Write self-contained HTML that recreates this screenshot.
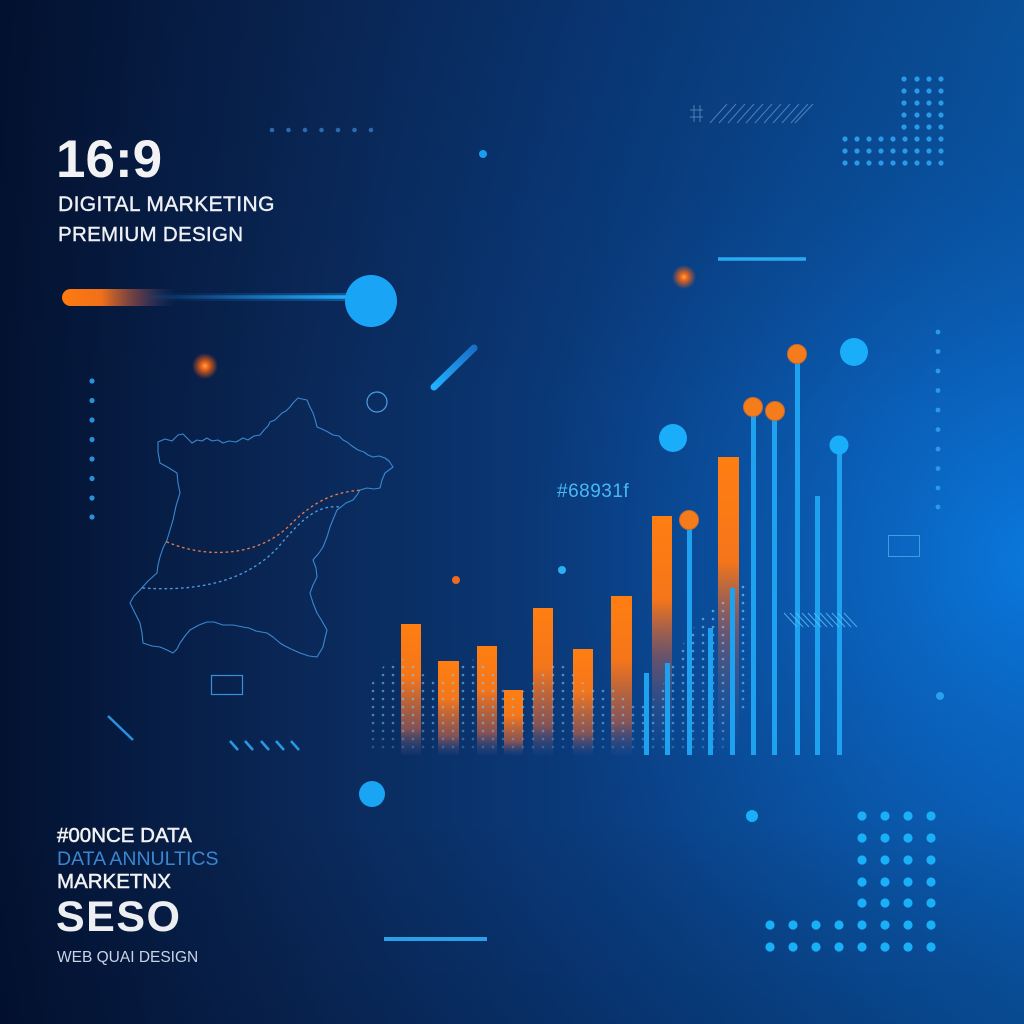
<!DOCTYPE html>
<html><head><meta charset="utf-8"><style>
html,body{margin:0;padding:0;width:1024px;height:1024px;overflow:hidden;background:#06183a}
svg{display:block}
text{font-family:"Liberation Sans",sans-serif}
</style></head><body>
<svg width="1024" height="1024" viewBox="0 0 1024 1024" xmlns="http://www.w3.org/2000/svg">
<defs>
<linearGradient id="bg" x1="0" y1="0" x2="1" y2="0">
<stop offset="0" stop-color="#031231"/>
<stop offset="0.3" stop-color="#0a2858"/>
<stop offset="0.6" stop-color="#0a3d80"/>
<stop offset="1" stop-color="#0a5cae"/>
</linearGradient>
<radialGradient id="glowR" cx="1040" cy="560" r="520" gradientUnits="userSpaceOnUse">
<stop offset="0" stop-color="#0a7ae0" stop-opacity="0.95"/>
<stop offset="0.5" stop-color="#0a62c0" stop-opacity="0.5"/>
<stop offset="1" stop-color="#0a4a9a" stop-opacity="0"/>
</radialGradient>
<linearGradient id="vfade" x1="0" y1="0" x2="0" y2="1">
<stop offset="0" stop-color="#000820" stop-opacity="0.15"/>
<stop offset="0.4" stop-color="#000820" stop-opacity="0"/>
<stop offset="0.8" stop-color="#000820" stop-opacity="0"/>
<stop offset="1" stop-color="#000820" stop-opacity="0.2"/>
</linearGradient>
<linearGradient id="bar" x1="0" y1="0" x2="0" y2="1">
<stop offset="0" stop-color="#ff7e12"/>
<stop offset="0.4" stop-color="#f5761a"/>
<stop offset="0.8" stop-color="#a25a4e" stop-opacity="0.8"/>
<stop offset="1" stop-color="#40508a" stop-opacity="0.1"/>
</linearGradient>
<linearGradient id="barT" x1="0" y1="0" x2="0" y2="1">
<stop offset="0" stop-color="#ff7e12"/>
<stop offset="0.35" stop-color="#f5761a"/>
<stop offset="0.6" stop-color="#a05a58" stop-opacity="0.6"/>
<stop offset="1" stop-color="#2a60b0" stop-opacity="0"/>
</linearGradient>
<linearGradient id="orb" x1="62" y1="0" x2="175" y2="0" gradientUnits="userSpaceOnUse">
<stop offset="0" stop-color="#ff7a10"/>
<stop offset="0.35" stop-color="#f0701a"/>
<stop offset="0.7" stop-color="#8a4a50" stop-opacity="0.6"/>
<stop offset="1" stop-color="#2a4a8a" stop-opacity="0"/>
</linearGradient>
<linearGradient id="orb2" x1="140" y1="0" x2="350" y2="0" gradientUnits="userSpaceOnUse">
<stop offset="0" stop-color="#1a80e0" stop-opacity="0"/>
<stop offset="1" stop-color="#20b0ff"/>
</linearGradient>
<radialGradient id="og">
<stop offset="0" stop-color="#ffa050"/>
<stop offset="0.3" stop-color="#ff6a10" stop-opacity="0.9"/>
<stop offset="1" stop-color="#ff5a10" stop-opacity="0"/>
</radialGradient>
<linearGradient id="diag" x1="0" y1="1" x2="1" y2="0">
<stop offset="0" stop-color="#20b0ff"/>
<stop offset="1" stop-color="#1a70c8"/>
</linearGradient>
<pattern id="dots" width="10" height="8" patternUnits="userSpaceOnUse">
<circle cx="3" cy="3" r="1.3" fill="#7fd0ff"/>
</pattern>
<linearGradient id="dfade" x1="0" y1="0" x2="0" y2="1">
<stop offset="0" stop-color="#fff" stop-opacity="0.9"/>
<stop offset="0.8" stop-color="#fff" stop-opacity="0.7"/>
<stop offset="1" stop-color="#fff" stop-opacity="0.2"/>
</linearGradient>
<mask id="dmask"><rect x="350" y="560" width="450" height="200" fill="url(#dfade)"/></mask>
</defs>

<rect width="1024" height="1024" fill="url(#bg)"/>
<rect width="1024" height="1024" fill="url(#glowR)"/>
<rect width="1024" height="1024" fill="url(#vfade)"/>

<!-- top dotted row -->
<g fill="#2a6ab0">
<circle cx="272" cy="130" r="2.3"/><circle cx="288.5" cy="130" r="2.3"/><circle cx="305" cy="130" r="2.3"/><circle cx="321.5" cy="130" r="2.3"/><circle cx="338" cy="130" r="2.3"/><circle cx="354.5" cy="130" r="2.3"/><circle cx="371" cy="130" r="2.3"/>
</g>
<circle cx="483" cy="154" r="4" fill="#1a9ef0"/>

<!-- hatch top -->
<g stroke="#6a9ad0" stroke-width="1" opacity="0.7">
<line x1="690" y1="110" x2="703" y2="110"/><line x1="690" y1="117" x2="703" y2="117"/><line x1="694" y1="105" x2="694" y2="122"/><line x1="700" y1="105" x2="700" y2="122"/>
<line x1="710" y1="123" x2="727" y2="104"/><line x1="719" y1="123" x2="736" y2="104"/><line x1="728" y1="123" x2="745" y2="104"/><line x1="737" y1="123" x2="754" y2="104"/><line x1="746" y1="123" x2="763" y2="104"/><line x1="755" y1="123" x2="772" y2="104"/><line x1="764" y1="123" x2="781" y2="104"/><line x1="773" y1="123" x2="790" y2="104"/><line x1="782" y1="123" x2="799" y2="104"/><line x1="791" y1="123" x2="808" y2="104"/><line x1="795" y1="123" x2="813" y2="104"/>
</g>

<!-- top-right dot grid -->
<g fill="#2a9ae8">
<circle cx="904" cy="79" r="2.6"/><circle cx="917" cy="79" r="2.6"/><circle cx="929" cy="79" r="2.6"/><circle cx="941" cy="79" r="2.6"/>
<circle cx="904" cy="91" r="2.6"/><circle cx="917" cy="91" r="2.6"/><circle cx="929" cy="91" r="2.6"/><circle cx="941" cy="91" r="2.6"/>
<circle cx="904" cy="103" r="2.6"/><circle cx="917" cy="103" r="2.6"/><circle cx="929" cy="103" r="2.6"/><circle cx="941" cy="103" r="2.6"/>
<circle cx="904" cy="115" r="2.6"/><circle cx="917" cy="115" r="2.6"/><circle cx="929" cy="115" r="2.6"/><circle cx="941" cy="115" r="2.6"/>
<circle cx="904" cy="127" r="2.6"/><circle cx="917" cy="127" r="2.6"/><circle cx="929" cy="127" r="2.6"/><circle cx="941" cy="127" r="2.6"/>
<circle cx="845" cy="139" r="2.6"/><circle cx="857" cy="139" r="2.6"/><circle cx="869" cy="139" r="2.6"/><circle cx="881" cy="139" r="2.6"/><circle cx="893" cy="139" r="2.6"/><circle cx="905" cy="139" r="2.6"/><circle cx="917" cy="139" r="2.6"/><circle cx="929" cy="139" r="2.6"/><circle cx="941" cy="139" r="2.6"/>
<circle cx="845" cy="151" r="2.6"/><circle cx="857" cy="151" r="2.6"/><circle cx="869" cy="151" r="2.6"/><circle cx="881" cy="151" r="2.6"/><circle cx="893" cy="151" r="2.6"/><circle cx="905" cy="151" r="2.6"/><circle cx="917" cy="151" r="2.6"/><circle cx="929" cy="151" r="2.6"/><circle cx="941" cy="151" r="2.6"/>
<circle cx="845" cy="163" r="2.6"/><circle cx="857" cy="163" r="2.6"/><circle cx="869" cy="163" r="2.6"/><circle cx="881" cy="163" r="2.6"/><circle cx="893" cy="163" r="2.6"/><circle cx="905" cy="163" r="2.6"/><circle cx="917" cy="163" r="2.6"/><circle cx="929" cy="163" r="2.6"/><circle cx="941" cy="163" r="2.6"/>
</g>

<!-- top-left text -->
<text x="56" y="177" font-size="53" font-weight="bold" fill="#f2f2f4">16:9</text>
<text x="58" y="211" font-size="21" fill="#eef0f4" stroke="#eef0f4" stroke-width="0.4" letter-spacing="0.4">DIGITAL MARKETING</text>
<text x="58" y="241" font-size="20.5" fill="#eef0f4" stroke="#eef0f4" stroke-width="0.4" letter-spacing="0.3">PREMIUM DESIGN</text>

<!-- orbit line -->
<line x1="140" y1="297" x2="350" y2="297" stroke="url(#orb2)" stroke-width="8" opacity="0.35"/>
<line x1="140" y1="297" x2="350" y2="297" stroke="url(#orb2)" stroke-width="3.5"/>
<path d="M70.5,289 L175,289 L175,306 L70.5,306 A8.5,8.5 0 0 1 70.5,289 Z" fill="url(#orb)"/>
<circle cx="371" cy="301" r="26" fill="#1aa4f6"/>

<line x1="718" y1="259" x2="806" y2="259" stroke="#2aaaf0" stroke-width="3.5"/>
<circle cx="684" cy="277" r="12" fill="url(#og)"/>
<circle cx="205" cy="366" r="13" fill="url(#og)"/>

<!-- left vertical dots -->
<g fill="#2a90d8">
<circle cx="92" cy="381" r="2.6"/><circle cx="92" cy="400.5" r="2.6"/><circle cx="92" cy="420" r="2.6"/><circle cx="92" cy="439.5" r="2.6"/><circle cx="92" cy="459" r="2.6"/><circle cx="92" cy="478.5" r="2.6"/><circle cx="92" cy="498" r="2.6"/><circle cx="92" cy="517" r="2.6"/>
</g>
<!-- right vertical dots -->
<g fill="#2a9ae6">
<circle cx="938" cy="332" r="2.4"/><circle cx="938" cy="351.5" r="2.4"/><circle cx="938" cy="371" r="2.4"/><circle cx="938" cy="390.5" r="2.4"/><circle cx="938" cy="410" r="2.4"/><circle cx="938" cy="429.5" r="2.4"/><circle cx="938" cy="449" r="2.4"/><circle cx="938" cy="468.5" r="2.4"/><circle cx="938" cy="488" r="2.4"/><circle cx="938" cy="507" r="2.4"/>
</g>
<circle cx="940" cy="696" r="4" fill="#2aa0ec"/>
<rect x="888.5" y="535.5" width="31" height="21" fill="none" stroke="#3aa0e0" stroke-width="1"/>

<!-- map -->
<polygon fill="none" stroke="#3a88d0" stroke-width="1.1" stroke-linejoin="round" points="158,442 165,439 172,441 178,435 183,434 187,438 192,443 197,440 202,441 207,438 212,441 218,440 223,443 229,441 236,442 243,438 248,440 254,436 260,435 264,430 268,426 270,422 275,420 279,416 282,413 286,411 290,407 293,403 298,398 302,399 307,400 309,405 311,409 313,413 315,419 317,427 322,429 328,432 333,435 339,436 343,440 347,442 352,446 358,450 364,452 368,455 373,457 379,456 385,458 389,461 393,467 389,470 385,473 382,480 380,488 374,489 367,488 360,490 357,495 353,500 346,503 341,507 337,510 334,517 330,527 327,537 323,547 319,553 313,560 316,568 317,577 313,585 310,593 313,603 317,613 322,621 327,630 325,638 323,647 320,652 317,657 309,656 300,653 291,649 285,646 280,643 273,637 267,633 256,631 249,628 243,627 233,625 223,625 214,622 207,622 199,625 190,630 185,636 180,643 177,649 173,653 167,650 160,647 152,646 143,643 142,633 140,623 135,613 130,603 134,596 140,590 148,581 157,573 158,565 160,557 163,548 167,540 170,530 173,520 176,506 180,493 178,483 177,473 169,468 160,463 158,452"/>
<path d="M167,542 C210,560 260,555 290,525 C315,500 335,492 362,490" fill="none" stroke="#e07848" stroke-width="1.4" stroke-dasharray="1.5 4" stroke-linecap="round"/>
<path d="M143,588 C200,592 250,580 280,545 C305,515 320,505 340,507" fill="none" stroke="#4a9ae0" stroke-width="1.4" stroke-dasharray="1.5 4" stroke-linecap="round"/>

<circle cx="377" cy="402" r="10" fill="none" stroke="#4a9ee0" stroke-width="1.2"/>
<line x1="434" y1="387" x2="474" y2="348" stroke="url(#diag)" stroke-width="7" stroke-linecap="round"/>
<rect x="211.5" y="675.5" width="31" height="19" fill="none" stroke="#3a90d8" stroke-width="1.2"/>
<line x1="108" y1="716" x2="133" y2="740" stroke="#2a90e0" stroke-width="2.5"/>
<g stroke="#2a98e6" stroke-width="2.5">
<line x1="230" y1="741" x2="238" y2="750"/><line x1="245" y1="741" x2="253" y2="750"/><line x1="261" y1="741" x2="269" y2="750"/><line x1="276" y1="741" x2="284" y2="750"/><line x1="291" y1="741" x2="299" y2="750"/>
</g>

<!-- label -->
<text x="557" y="497" font-size="19" fill="#48b8f2" letter-spacing="0.5">#68931f</text>
<circle cx="456" cy="580" r="4" fill="#f06a20"/>
<circle cx="562" cy="570" r="4" fill="#2ab0f4"/>

<!-- orange bars -->
<rect x="401" y="624" width="20" height="131" fill="url(#bar)"/>
<rect x="438" y="661" width="21" height="94" fill="url(#bar)"/>
<rect x="477" y="646" width="20" height="109" fill="url(#bar)"/>
<rect x="504" y="690" width="19" height="65" fill="url(#bar)"/>
<rect x="533" y="608" width="20" height="147" fill="url(#bar)"/>
<rect x="573" y="649" width="20" height="106" fill="url(#bar)"/>
<rect x="611" y="596" width="21" height="159" fill="url(#bar)"/>
<rect x="652" y="516" width="20" height="239" fill="url(#barT)"/>
<rect x="718" y="457" width="21" height="298" fill="url(#barT)"/>

<!-- halftone dots -->
<path mask="url(#dmask)" fill="url(#dots)" opacity="0.75" d="M365,700 C375,670 390,655 405,660 C420,665 430,690 445,680 C460,670 470,650 485,665 C500,680 510,700 525,690 C540,680 548,655 562,665 C575,675 585,690 600,685 C615,680 625,700 640,705 C655,708 665,680 680,650 C695,620 710,610 720,600 C730,590 740,585 748,580 L748,700 C740,720 730,740 720,752 L365,752 Z"/>

<!-- blue lines -->
<g fill="#1ea2f0">
<rect x="644" y="673" width="5" height="82"/>
<rect x="665" y="663" width="5" height="92"/>
<rect x="687" y="528" width="5" height="227"/>
<rect x="708" y="628" width="5" height="127"/>
<rect x="730" y="588" width="5" height="167"/>
<rect x="751" y="414" width="5" height="341"/>
<rect x="772" y="418" width="5" height="337"/>
<rect x="795" y="360" width="5" height="395"/>
<rect x="815" y="496" width="5" height="259"/>
<rect x="837" y="452" width="5" height="303"/>
</g>
<!-- hatch on lines -->
<g stroke="#5ac0f8" stroke-width="1" opacity="0.8">
<line x1="784" y1="613" x2="797" y2="627"/><line x1="790" y1="613" x2="803" y2="627"/><line x1="796" y1="613" x2="809" y2="627"/><line x1="802" y1="613" x2="815" y2="627"/><line x1="808" y1="613" x2="821" y2="627"/><line x1="814" y1="613" x2="827" y2="627"/><line x1="820" y1="613" x2="833" y2="627"/><line x1="826" y1="613" x2="839" y2="627"/><line x1="832" y1="613" x2="845" y2="627"/><line x1="838" y1="613" x2="851" y2="627"/><line x1="844" y1="613" x2="857" y2="627"/>
</g>
<!-- markers -->
<g fill="#f57c1a" stroke="#c86a30" stroke-width="1">
<circle cx="689" cy="520" r="9.5"/>
<circle cx="753" cy="407" r="9.5"/>
<circle cx="775" cy="411" r="9.5"/>
<circle cx="797" cy="354" r="9.5"/>
</g>
<g fill="#1aaefa">
<circle cx="839" cy="445" r="9.5"/>
<circle cx="854" cy="352" r="14"/>
<circle cx="673" cy="438" r="14"/>
</g>

<!-- bottom elements -->
<circle cx="372" cy="794" r="13" fill="#1aa4f4"/>
<line x1="384" y1="939" x2="487" y2="939" stroke="#2aa0e8" stroke-width="4"/>
<circle cx="752" cy="816" r="6" fill="#1ab0f8"/>
<g fill="#1ab0f8">
<circle cx="862" cy="816" r="4.6"/><circle cx="885" cy="816" r="4.6"/><circle cx="908" cy="816" r="4.6"/><circle cx="931" cy="816" r="4.6"/>
<circle cx="862" cy="838" r="4.6"/><circle cx="885" cy="838" r="4.6"/><circle cx="908" cy="838" r="4.6"/><circle cx="931" cy="838" r="4.6"/>
<circle cx="862" cy="860" r="4.6"/><circle cx="885" cy="860" r="4.6"/><circle cx="908" cy="860" r="4.6"/><circle cx="931" cy="860" r="4.6"/>
<circle cx="862" cy="882" r="4.6"/><circle cx="885" cy="882" r="4.6"/><circle cx="908" cy="882" r="4.6"/><circle cx="931" cy="882" r="4.6"/>
<circle cx="862" cy="903" r="4.6"/><circle cx="885" cy="903" r="4.6"/><circle cx="908" cy="903" r="4.6"/><circle cx="931" cy="903" r="4.6"/>
<circle cx="770" cy="925" r="4.6"/><circle cx="793" cy="925" r="4.6"/><circle cx="816" cy="925" r="4.6"/><circle cx="839" cy="925" r="4.6"/><circle cx="862" cy="925" r="4.6"/><circle cx="885" cy="925" r="4.6"/><circle cx="908" cy="925" r="4.6"/><circle cx="931" cy="925" r="4.6"/>
<circle cx="770" cy="947" r="4.6"/><circle cx="793" cy="947" r="4.6"/><circle cx="816" cy="947" r="4.6"/><circle cx="839" cy="947" r="4.6"/><circle cx="862" cy="947" r="4.6"/><circle cx="885" cy="947" r="4.6"/><circle cx="908" cy="947" r="4.6"/><circle cx="931" cy="947" r="4.6"/>
</g>

<!-- bottom-left text -->
<text x="57" y="842" font-size="20.5" fill="#f2f2f4" stroke="#f2f2f4" stroke-width="0.5">#00NCE DATA</text>
<text x="57" y="865" font-size="19.5" fill="#3a86d0">DATA ANNULTICS</text>
<text x="57" y="888" font-size="20.5" fill="#f2f2f4" stroke="#f2f2f4" stroke-width="0.5">MARKETNX</text>
<text x="56" y="931" font-size="43" font-weight="bold" fill="#eceef2" letter-spacing="1.5">SESO</text>
<text x="57" y="962" font-size="15.5" fill="#c8d4e6">WEB QUAI DESIGN</text>
</svg>
</body></html>
